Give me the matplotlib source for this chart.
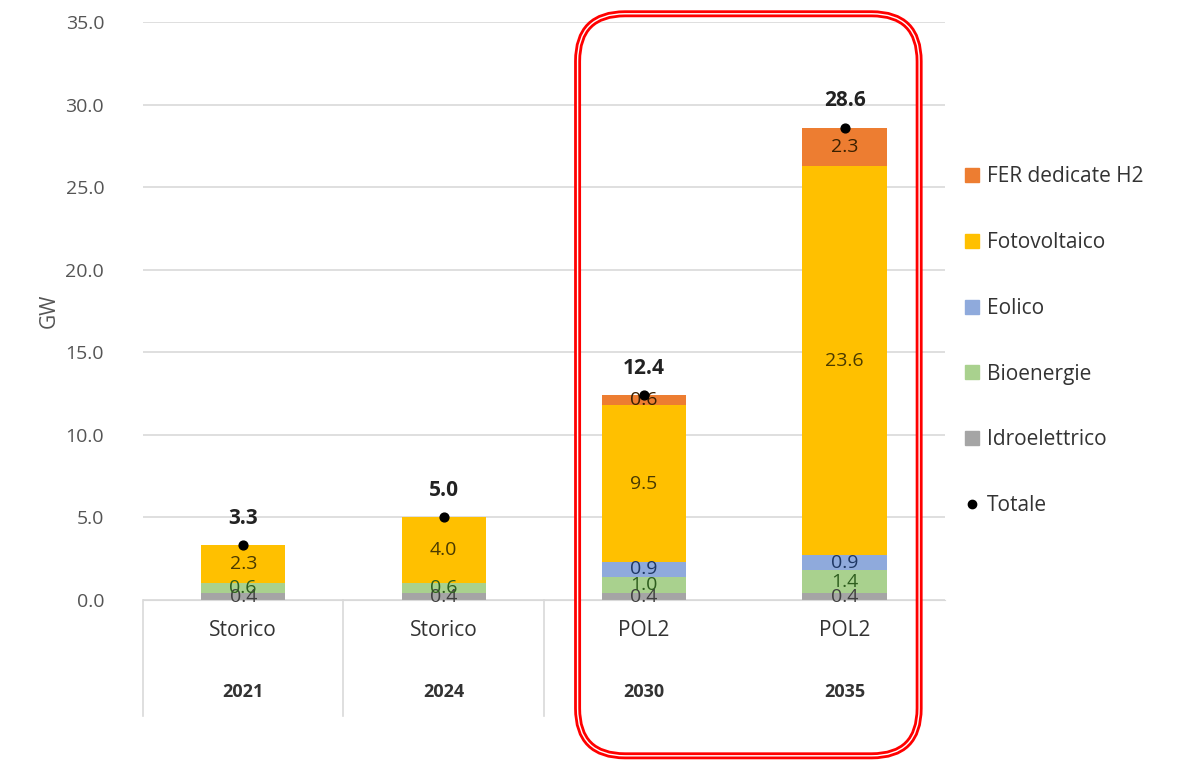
import matplotlib.pyplot as plt
from matplotlib.patches import FancyBboxPatch
from matplotlib.lines import Line2D

plt.rcParams['font.family'] = ['Open Sans', 'DejaVu Sans']

scenari = ['Storico', 'Storico', 'POL2', 'POL2']
anni = ['2021', '2024', '2030', '2035']

idroelettrico = [0.4, 0.4, 0.4, 0.4]
bioenergie = [0.6, 0.6, 1.0, 1.4]
eolico = [0.0, 0.0, 0.9, 0.9]
fotovoltaico = [2.3, 4.0, 9.5, 23.6]
fer_h2 = [0.0, 0.0, 0.6, 2.3]
totale = [3.3, 5.0, 12.4, 28.6]

serie = [
    ('Idroelettrico', idroelettrico, '#A5A5A5', '#404040'),
    ('Bioenergie', bioenergie, '#A9D18E', '#2E5E1E'),
    ('Eolico', eolico, '#8FAADC', '#1F3864'),
    ('Fotovoltaico', fotovoltaico, '#FFC000', '#4A3A00'),
    ('FER dedicate H2', fer_h2, '#ED7D31', '#3A2000'),
]

def main():
    fig = plt.figure(figsize=(11.86, 7.65), dpi=100)
    ax = fig.add_axes([0.1206, 0.2157, 0.676, 0.7555])

    x = list(range(len(anni)))
    bottom = [0.0] * len(anni)
    handles = []
    for nome, valori, colore, col_txt in serie:
        ax.bar(x, valori, width=0.42, bottom=bottom, color=colore, zorder=2)
        for i, v in enumerate(valori):
            if v > 0:
                ax.text(x[i], bottom[i] + v / 2, f'{v:.1f}', ha='center', va='center',
                        fontsize=14, color=col_txt, zorder=4)
        bottom = [b + v for b, v in zip(bottom, valori)]
        handles.append(Line2D([], [], marker='s', linestyle='', color=colore,
                              markersize=10, label=nome))

    ax.scatter(x, totale, color='black', s=40, zorder=5)
    for i, t in enumerate(totale):
        ax.annotate(f'{t:.1f}', (x[i], t), xytext=(0, 12), textcoords='offset points',
                    ha='center', va='bottom', fontsize=15, fontweight='bold', color='#222222')
    handles = handles[::-1]
    handles.append(Line2D([], [], marker='o', linestyle='', color='black',
                          markersize=6, label='Totale'))

    ax.set_xlim(-0.5, 3.5)
    ax.set_ylim(0, 35)
    ax.set_yticks(range(0, 36, 5))
    ax.set_yticklabels([f'{v:.1f}' for v in range(0, 36, 5)], fontsize=14, color='#555555')
    ax.yaxis.grid(True, color='#D9D9D9', linewidth=1.2, zorder=0)
    ax.set_axisbelow(True)
    ax.tick_params(axis='y', length=0, pad=28)
    ax.set_xticks([])
    for s in ['top', 'right', 'left']:
        ax.spines[s].set_visible(False)
    ax.spines['bottom'].set_color('#D9D9D9')
    ax.set_ylabel('GW', fontsize=15, color='#555555', labelpad=4)

    # etichette a due livelli
    for i in x:
        ax.text(i, -1.2, scenari[i], ha='center', va='top', fontsize=15, color='#333333')
        ax.text(i, -5.0, anni[i], ha='center', va='top', fontsize=13, color='#333333',
                fontweight='bold')
    for b in [-0.5, 0.5, 1.5]:
        ax.plot([b, b], [0, -7], color='#D9D9D9', linewidth=1.2, clip_on=False)

    leg = fig.legend(handles=handles, loc='center left', bbox_to_anchor=(0.795, 0.554),
                     frameon=False, fontsize=15, labelspacing=2.15, handletextpad=0.2,
                     handlelength=1.0)
    for t in leg.get_texts():
        t.set_color('#333333')

    # riquadro rosso sugli scenari
    box = FancyBboxPatch((0.487, 0.012), 0.288, 0.97, boxstyle='round,pad=0,rounding_size=0.04',
                         transform=fig.transFigure, fill=False, edgecolor='red', linewidth=5,
                         mutation_aspect=1186 / 765, zorder=10)
    fig.add_artist(box)
    box2 = FancyBboxPatch((0.487, 0.012), 0.288, 0.97, boxstyle='round,pad=0,rounding_size=0.04',
                          transform=fig.transFigure, fill=False, edgecolor='white', linewidth=1,
                          mutation_aspect=1186 / 765, zorder=11)
    fig.add_artist(box2)

    fig.savefig('out.png', dpi=100)

if __name__ == "__main__":
    main()
